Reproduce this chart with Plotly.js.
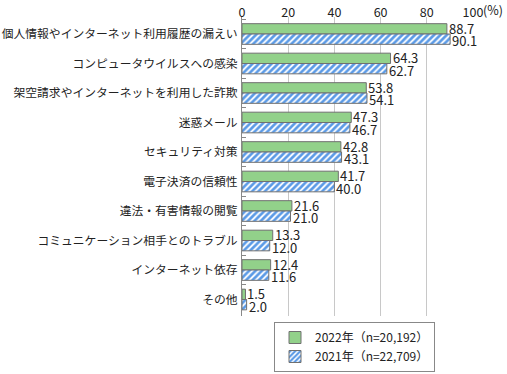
<!DOCTYPE html>
<html><head><meta charset="utf-8">
<script src="https://cdn.plot.ly/plotly-3.0.1.min.js"></script>
<style>html,body{margin:0;padding:0;background:#fff}#c{width:507px;height:374px}</style>
</head><body><div id="c"></div>
<script>
const categories = ["個人情報やインターネット利用履歴の漏えい","コンピュータウイルスへの感染","架空請求やインターネットを利用した詐欺","迷惑メール","セキュリティ対策","電子決済の信頼性","違法・有害情報の閲覧","コミュニケーション相手とのトラブル","インターネット依存","その他"];
const values2022 = [88.7,64.3,53.8,47.3,42.8,41.7,21.6,13.3,12.4,1.5];
const values2021 = [90.1,62.7,54.1,46.7,43.1,40.0,21.0,12.0,11.6,2.0];
const name2022 = "2022年（n=20,192）";
const name2021 = "2021年（n=22,709）";
const tickVals = [0,20,40,60,80,100];
const tickText = ["0","20","40","60","80","100"];
const font = "Noto Sans CJK JP, sans-serif";
const traces = [
 {type:"bar",orientation:"h",name:name2022,y:categories,x:values2022,
  marker:{color:"#92d18a",line:{color:"#707070",width:1}}},
 {type:"bar",orientation:"h",name:name2021,y:categories,x:values2021,
  marker:{color:"#ffffff",pattern:{shape:"/",fgcolor:"#5a9ae6",bgcolor:"#ffffff",size:4.5,solidity:0.6},line:{color:"#707070",width:1}}}
];
const labelAnn = [];
categories.forEach((c,i)=>{
  labelAnn.push({xref:"x",yref:"y",x:values2022[i],y:c,xanchor:"left",yanchor:"middle",xshift:1,yshift:6,
    text:values2022[i].toFixed(1),showarrow:false,borderpad:0,font:{family:font,size:13,color:"#222"}});
  labelAnn.push({xref:"x",yref:"y",x:values2021[i],y:c,xanchor:"left",yanchor:"middle",xshift:1,yshift:-6.5,
    text:values2021[i].toFixed(1),showarrow:false,borderpad:0,font:{family:font,size:13,color:"#222"}});
});
labelAnn.push({xref:"x",yref:"paper",x:100,y:1,xshift:8,yshift:8,xanchor:"left",yanchor:"middle",text:"(%)",showarrow:false,
   font:{family:font,size:12.5,color:"#222"}});
const layout = {
 width:507,height:374,margin:{l:242,r:34,t:17,b:58,autoexpand:false},
 paper_bgcolor:"#fff",plot_bgcolor:"#fff",
 font:{family:font,size:12,color:"#222"},
 barmode:"group",bargap:0.3,bargroupgap:0,
 showlegend:true,
 legend:{xref:"container",yref:"container",x:274/507,y:2/374,xanchor:"left",yanchor:"bottom",bordercolor:"#888",borderwidth:1,
   font:{family:font,size:12,color:"#222"},tracegroupgap:0,itemwidth:30},
 xaxis:{side:"top",range:[0,100],tickvals:tickVals,ticktext:tickText,showgrid:true,gridcolor:"#c8c8c8",gridwidth:1,
   zeroline:false,showline:false,ticks:"",tickfont:{family:font,size:12.5,color:"#222"},ticklabelstandoff:-3,fixedrange:true,automargin:false},
 yaxis:{autorange:"reversed",type:"category",showline:true,linecolor:"#888",linewidth:1,ticks:"inside",tickson:"boundaries",
   ticklen:4,tickcolor:"#888",showgrid:false,tickfont:{family:font,size:11.8,color:"#222"},ticklabelstandoff:1,automargin:false},
 annotations:labelAnn
};
Plotly.newPlot("c",traces,layout,{displayModeBar:false,staticPlot:true});
</script></body></html>
